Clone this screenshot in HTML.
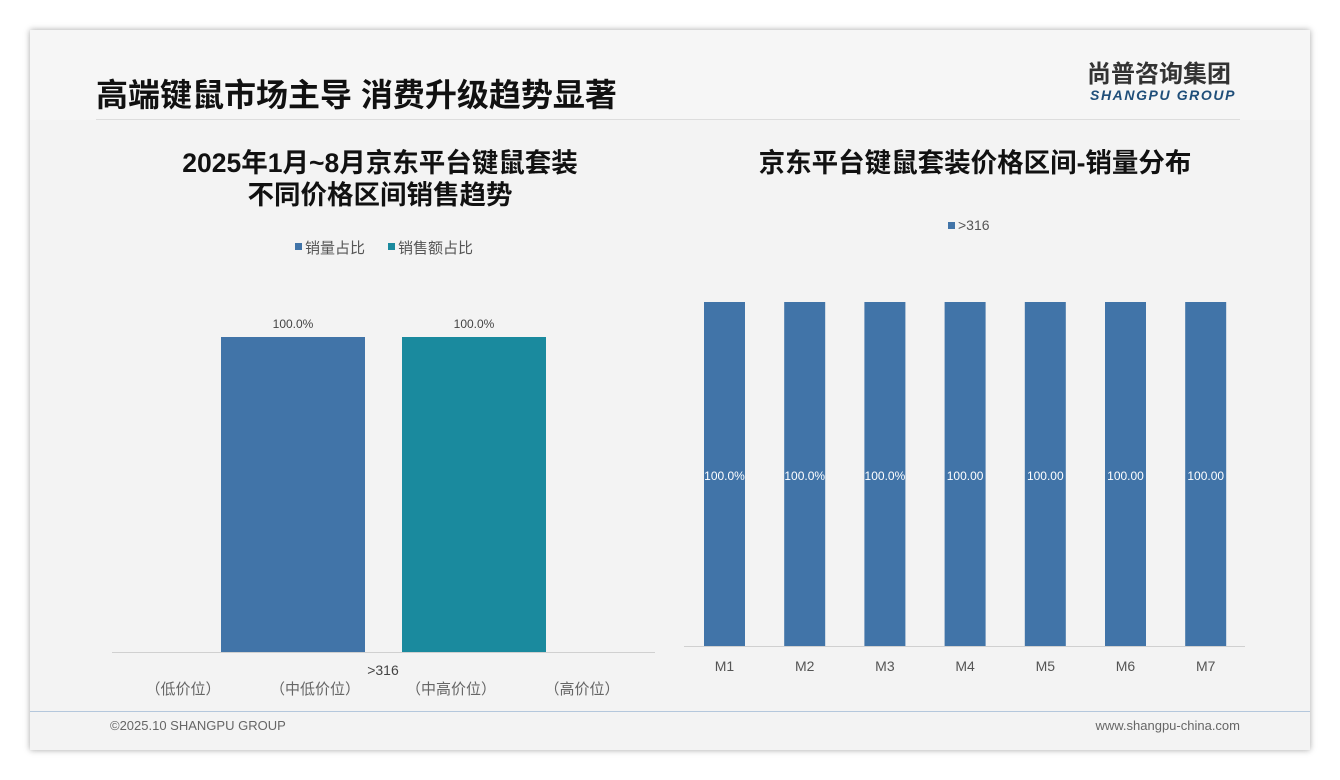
<!DOCTYPE html>
<html><head><meta charset="utf-8"><style>
body{margin:0;width:1340px;height:780px;background:#fff;position:relative;overflow:hidden;font-family:"Liberation Sans","Noto Sans CJK SC",sans-serif}
.slide{position:absolute;left:30px;top:30px;width:1280px;height:720px;background:#f3f3f3;box-shadow:0 0 6px rgba(0,0,0,.35)}
.hdr{position:absolute;left:0;top:0;width:1280px;height:90px;background:#f6f6f6}
.abs{position:absolute;white-space:nowrap}
</style></head><body>
<div class="slide">
<div class="hdr"></div>
<div class="abs" style="left:66px;top:45px;font-size:32px;line-height:40px;font-weight:bold;color:#111">高端键鼠市场主导 消费升级趋势显著</div>
<div class="abs" style="left:66px;top:89px;width:1144px;height:1px;background:#ddd"></div>
<div class="abs" style="left:1057px;top:31px;font-size:24px;line-height:28px;font-weight:bold;color:#333">尚普咨询集团</div>
<div class="abs" style="left:1060px;top:57px;font-size:14px;line-height:16px;font-weight:bold;font-style:italic;color:#1f4e79;letter-spacing:1.6px">SHANGPU GROUP</div>
<div class="abs" style="left:100px;top:117px;width:500px;text-align:center;font-size:26.5px;font-weight:bold;color:#111;line-height:32px">2025年1月~8月京东平台键鼠套装<br>不同价格区间销售趋势</div>
<div class="abs" style="left:655px;top:117px;width:580px;text-align:center;font-size:26.5px;line-height:32px;font-weight:bold;color:#111">京东平台键鼠套装价格区间-销量分布</div>
<div class="abs" style="left:0;top:681px;width:1280px;height:1px;background:#b4c7dc"></div>
<div class="abs" style="left:80px;top:688px;font-size:13px;color:#666">©2025.10 SHANGPU GROUP</div>
<div class="abs" style="left:1060px;top:688px;width:150px;text-align:right;font-size:13px;color:#666">www.shangpu-china.com</div>
</div>
<svg id="c" width="1340" height="780" style="position:absolute;left:0;top:0"></svg>
<script>
const leftSeries=["销量占比","销售额占比"];
const leftValues=[100.0,100.0];
const leftColors=["#4174a8","#1a8a9e"];
const leftCats=["（低价位）","（中低价位）","（中高价位）","（高价位）"];
const leftGroup=">316";
const rightCats=["M1","M2","M3","M4","M5","M6","M7"];
const rightValues=[100.0,100.0,100.0,100.0,100.0,100.0,100.0];
const rightSeries=">316";
const rightLabels=["100.0%","100.0%","100.0%","100.00","100.00","100.00","100.00"];
const svg=document.getElementById('c');const NS='http://www.w3.org/2000/svg';
function mk(t,a,txt){const e=document.createElementNS(NS,t);for(const k in a)e.setAttribute(k,a[k]);if(txt!==undefined)e.textContent=txt;svg.appendChild(e);return e;}
const lY=v=>652-v/100*315;
let e=mk('line',{x1:112,y1:652.5,x2:655,y2:652.5,stroke:'#d0d0d0'});


leftValues.forEach((v,i)=>{const x=221+i*181;
 const r=mk('rect',{x:x,y:lY(v),width:144,height:652-lY(v),fill:leftColors[i]});
 
 
 const t=mk('text',{x:x+72,y:lY(v)-9,'text-anchor':'middle','font-size':12,fill:'#444'},v.toFixed(1)+'%');
 
 
 const lx=295+i*93;
 mk('rect',{x:lx,y:243,width:7,height:7,fill:leftColors[i]});
 const lt=mk('text',{x:lx+10,y:253,'font-size':15,fill:'#555'},leftSeries[i]);
 
 
});
e=mk('text',{x:383,y:675,'text-anchor':'middle','font-size':14,fill:'#444'},leftGroup);


leftCats.forEach((c,i)=>{const t=mk('text',{x:[183,315,451,582][i],y:694,'text-anchor':'middle','font-size':15,fill:'#666'},c);
 
 });
const rY=v=>646-v/100*344;
e=mk('line',{x1:684,y1:646.5,x2:1245,y2:646.5,stroke:'#d0d0d0'});


mk('rect',{x:948,y:222,width:7,height:7,fill:'#4174a8'});
e=mk('text',{x:958,y:230,'font-size':14,fill:'#555'},rightSeries);


rightValues.forEach((v,i)=>{const cx=724.5+i*80.2;
 const r=mk('rect',{x:cx-20.5,y:rY(v),width:41,height:646-rY(v),fill:'#4174a8'});
 
 
 const t=mk('text',{x:cx,y:480,'text-anchor':'middle','font-size':12,fill:'#fff'},rightLabels[i]);
 
 
 const c=mk('text',{x:cx,y:671,'text-anchor':'middle','font-size':14,fill:'#555'},rightCats[i]);
 
 
});
</script>
</body></html>
